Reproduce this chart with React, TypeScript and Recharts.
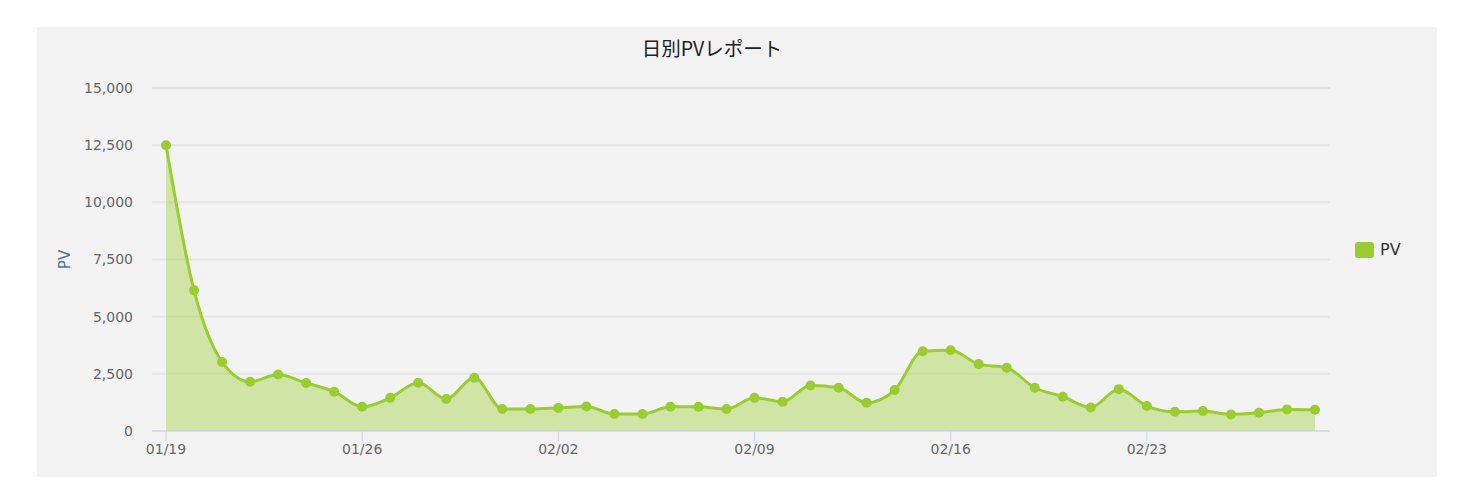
import React from 'react';
import { AreaChart, Area, XAxis, YAxis, CartesianGrid, Legend } from 'recharts';

const days = [
  '01/19', '01/20', '01/21', '01/22', '01/23', '01/24', '01/25', '01/26', '01/27', '01/28',
  '01/29', '01/30', '01/31', '02/01', '02/02', '02/03', '02/04', '02/05', '02/06', '02/07',
  '02/08', '02/09', '02/10', '02/11', '02/12', '02/13', '02/14', '02/15', '02/16', '02/17',
  '02/18', '02/19', '02/20', '02/21', '02/22', '02/23', '02/24', '02/25', '02/26', '02/27',
  '02/28', '03/01',
];

const pv = [
  12500, 6150, 3020, 2150, 2470, 2100, 1720, 1060, 1450, 2110,
  1400, 2330, 960, 960, 1010, 1075, 740, 740, 1060, 1060,
  960, 1450, 1280, 1990, 1890, 1235, 1790, 3490, 3535, 2925,
  2765, 1890, 1500, 1030, 1830, 1090, 840, 870, 725, 800,
  945, 930,
];

const yTicks = [0, 2500, 5000, 7500, 10000, 12500, 15000];

const data = days.map((d, i) => ({ day: d, PV: pv[i] }));

const GREEN = '#9acd32';

const PvLegend = () => (
  <div style={{ display: 'flex', alignItems: 'center' }}>
    <span style={{ width: 19, height: 16, borderRadius: 3, background: GREEN, display: 'inline-block' }} />
    <span style={{ marginLeft: 6, fontSize: 16, color: '#333' }}>PV</span>
  </div>
);

const YLabel = (props: any) => {
  const vb = props.viewBox || { y: 61, height: 343 };
  const cy = vb.y + vb.height / 2;
  return (
    <text
      x={28}
      y={cy}
      transform={`rotate(-90, 28, ${cy})`}
      textAnchor="middle"
      dominantBaseline="central"
      fill="#4f72a6"
      fontSize={15}
    >
      PV
    </text>
  );
};

export default function App() {
  return (
    <div
      style={{
        position: 'relative',
        marginLeft: 29,
        marginTop: 19,
        width: 1400,
        height: 450,
        background: '#f3f3f3',
        fontFamily: '"DejaVu Sans", sans-serif',
      }}
    >
      <div
        style={{
          position: 'absolute',
          left: 675,
          top: 6,
          transform: 'translateX(-50%)',
          fontSize: 19.5,
          color: '#222',
          fontFamily: '"Noto Sans CJK JP", sans-serif',
          whiteSpace: 'nowrap',
        }}
      >
        日別PVレポート
      </div>
      <AreaChart
        width={1400}
        height={450}
        data={data}
        margin={{ top: 61, right: 107, left: 55, bottom: 16 }}
      >
        <CartesianGrid vertical={false} stroke="#e6e6e6" strokeWidth={2} />
        <XAxis
          dataKey="day"
          interval={6}
          padding={{ left: 14, right: 15 }}
          height={30}
          tickSize={10}
          tickMargin={3}
          stroke="#c6d4ea"
          tick={{ fill: '#666', fontSize: 14 }}
        />
        <YAxis
          width={60}
          domain={[0, 15000]}
          ticks={yTicks}
          axisLine={false}
          tickLine={false}
          tickSize={0}
          tickMargin={19}
          tick={{ fill: '#666', fontSize: 14 }}
          tickFormatter={(v: number) => v.toLocaleString('en-US')}
          label={YLabel}
        />
        <Legend
          layout="vertical"
          align="center"
          verticalAlign="middle"
          content={PvLegend}
          wrapperStyle={{ left: 1318, top: 213, width: 'auto' }}
        />
        <Area
          type="monotone"
          dataKey="PV"
          stroke={GREEN}
          strokeWidth={3}
          fill={GREEN}
          fillOpacity={0.4}
          dot={{ r: 5, fill: GREEN, fillOpacity: 1, stroke: 'none' }}
          activeDot={false}
          isAnimationActive={false}
        />
      </AreaChart>
    </div>
  );
}
